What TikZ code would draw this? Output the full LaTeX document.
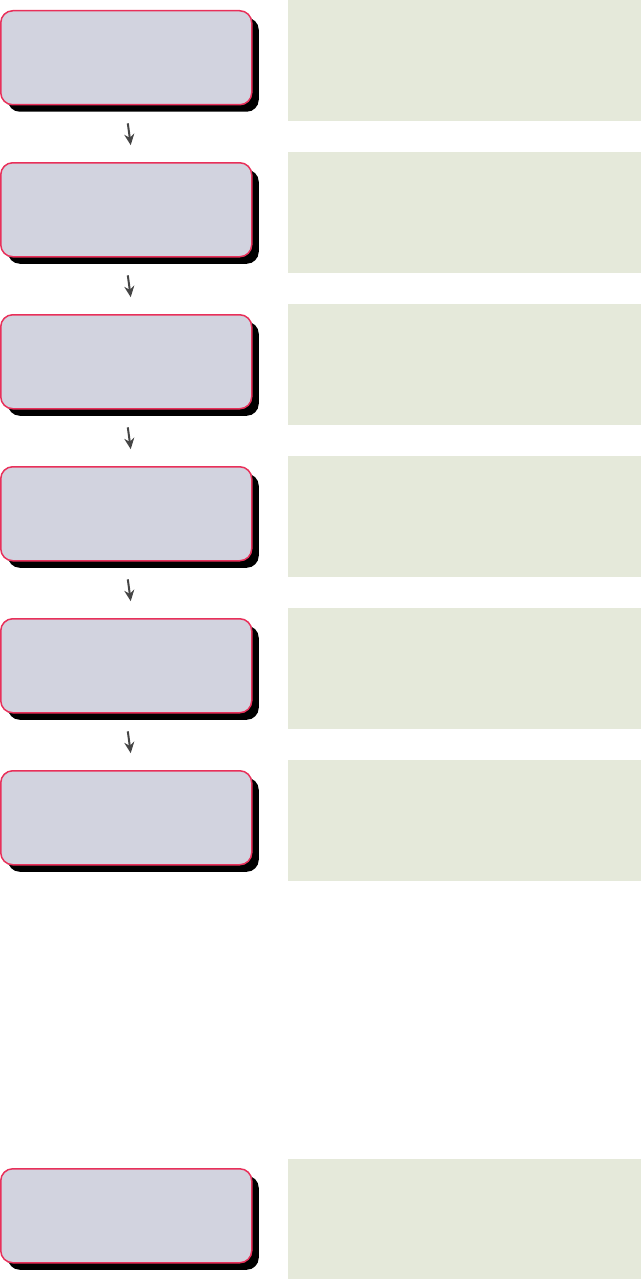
\documentclass[tikz,border=0pt]{standalone}
\usetikzlibrary{arrows.meta,shadows}
\definecolor{StepFill}{RGB}{210,211,223}
\definecolor{StepEdge}{RGB}{232,48,90}
\definecolor{PanelFill}{RGB}{229,233,218}
\definecolor{ArrowGray}{RGB}{69,69,69}
\tikzset{
  stepbox/.style={draw=StepEdge,fill=StepFill,line width=1.5pt,rounded corners=12pt,
    minimum width=251pt,minimum height=94pt,anchor=north west,inner sep=0pt,
    drop shadow={shadow xshift=7pt,shadow yshift=-7pt,fill=black,opacity=1}},
  panel/.style={fill=PanelFill,draw=none,minimum width=353pt,minimum height=121pt,
    anchor=north west,inner sep=0pt},
  flow/.style={-{Stealth[length=11pt,width=10pt]},line width=2pt,draw=ArrowGray,
    shorten <=18pt,shorten >=17pt}
}
\begin{document}
\begin{tikzpicture}[x=1pt,y=-1pt]
  \useasboundingbox (0,0) rectangle (641,1279);
  \foreach \i in {0,...,5} {
    \node[panel] (panel\i) at (288,152*\i) {};
    \node[stepbox] (step\i) at (0,10+152*\i) {};
  }
  \node[panel] (panelend) at (288,1159) {};
  \node[stepbox] (stepend) at (0,1168) {};
  \foreach \i [evaluate=\i as \j using int(\i+1)] in {0,...,4}
    \draw[flow] ([xshift=-0.8pt]step\i.south) -- ([xshift=6.7pt]step\j.north);
\end{tikzpicture}
\end{document}
